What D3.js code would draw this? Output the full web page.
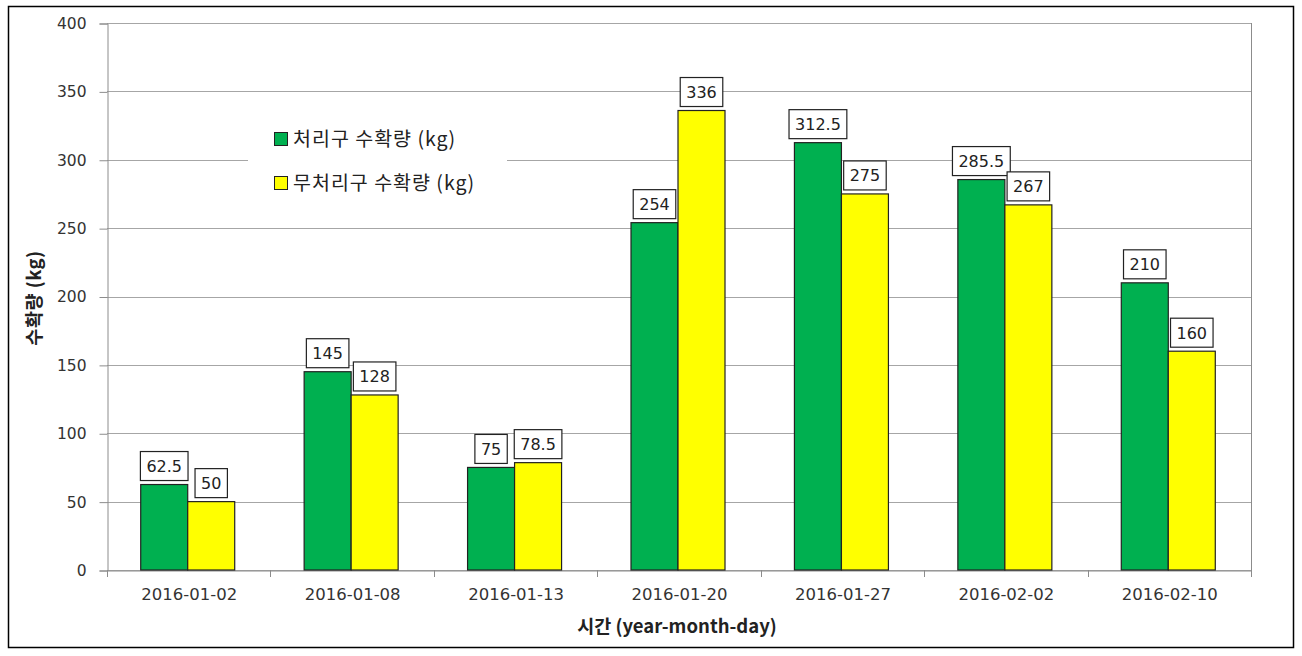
<!DOCTYPE html>
<html>
<head>
<meta charset="utf-8">
<script src="https://cdn.jsdelivr.net/npm/d3@7"></script>
<style>
body{margin:0;background:#fff;}
svg{display:block;font-family:"Noto Sans CJK KR","Noto Sans",sans-serif;}
</style>
</head>
<body>
<svg id="chart" width="1302" height="656"></svg>
<script>
const categories = ["2016-01-02","2016-01-08","2016-01-13","2016-01-20","2016-01-27","2016-02-02","2016-02-10"];
const treated = [62.5,145,75,254,312.5,285.5,210];
const untreated = [50,128,78.5,336,275,267,160];
const seriesNames = ["처리구 수확량 (kg)","무처리구 수확량 (kg)"];
const seriesColors = ["#00B050","#FFFF00"];
const yTicks = [0,50,100,150,200,250,300,350,400];

const svg = d3.select("#chart");
const L = 107, R = 1251, T = 23, B = 570;

svg.append("rect").attr("x",8.5).attr("y",6.5).attr("width",1285).attr("height",641)
  .attr("fill","#fff").attr("stroke","#000").attr("stroke-width",1.5);

const x = d3.scaleBand().domain(categories).range([L,R]).paddingInner(0).paddingOuter(0);
const y = d3.scaleLinear().domain([0,400]).range([B,T]);
const barW = 47;

// gridlines
svg.append("g").selectAll("line").data(yTicks).join("line")
  .attr("x1",L).attr("x2",R).attr("y1",d=>Math.round(y(d))+0.5).attr("y2",d=>Math.round(y(d))+0.5)
  .attr("stroke","#a6a6a6").attr("stroke-width",1);
// right border
svg.append("line").attr("x1",R+0.5).attr("x2",R+0.5).attr("y1",T).attr("y2",B).attr("stroke","#8c8c8c");

// y axis
const yAxis = svg.append("g").attr("transform",`translate(${L+0.5},0.5)`)
  .call(d3.axisLeft(y).tickValues(yTicks).tickSize(8).tickPadding(13));
yAxis.select(".domain").attr("stroke","#8c8c8c");
yAxis.selectAll(".tick line").attr("stroke","#8c8c8c");
yAxis.selectAll(".tick text").attr("fill","#333").attr("font-family","'DejaVu Sans',sans-serif").style("font-size","15.5px");

// x axis
const xAxis = svg.append("g").attr("transform",`translate(0.5,${B+0.5})`)
  .call(d3.axisBottom(x).tickSize(0).tickPadding(18));
xAxis.select(".domain").attr("stroke","#8c8c8c");
xAxis.selectAll(".tick text").attr("fill","#333").attr("font-family","'DejaVu Sans',sans-serif").style("font-size","16.5px");
// boundary ticks
const bounds = categories.map(c=>x(c)).concat([R]);
svg.append("g").selectAll("line").data(bounds).join("line")
  .attr("x1",d=>Math.round(d)+0.5).attr("x2",d=>Math.round(d)+0.5).attr("y1",B).attr("y2",B+7)
  .attr("stroke","#8c8c8c");

// bars
const data = categories.map((c,i)=>({c, vals:[treated[i],untreated[i]]}));
const groups = svg.append("g").selectAll("g").data(data).join("g");
groups.each(function(d){
  const g = d3.select(this);
  const cx = x(d.c) + x.bandwidth()/2 - 1;
  d.vals.forEach((v,j)=>{
    const bx = cx - barW + j*barW;
    g.append("rect").attr("x",bx).attr("y",y(v)).attr("width",barW).attr("height",B-y(v))
      .attr("fill",seriesColors[j]).attr("stroke","#222").attr("stroke-width",1.2);
    const label = String(v);
    const t = g.append("text").attr("x",bx+barW/2).attr("y",y(v)-12.5)
      .attr("text-anchor","middle").attr("fill","#222")
      .attr("font-family","'DejaVu Sans',sans-serif").style("font-size","16px").text(label);
    const bb = t.node().getBBox();
    g.insert("rect","text").attr("x",bb.x-6).attr("y",y(v)-33).attr("width",bb.width+12).attr("height",29)
      .attr("fill","#fff").attr("stroke","#222").attr("stroke-width",1.2);
  });
});
groups.selectAll("text").raise();

// legend
const leg = svg.append("g");
leg.append("rect").attr("x",248).attr("y",112).attr("width",259).attr("height",95).attr("fill","#fff");
seriesNames.forEach((n,i)=>{
  const ly = 139 + i*44;
  leg.append("rect").attr("x",274.5).attr("y",ly-6.5).attr("width",13).attr("height",13)
    .attr("fill",seriesColors[i]).attr("stroke","#222").attr("stroke-width",1);
  leg.append("text").attr("x",293).attr("y",ly+7).attr("fill","#222")
    .style("font-size","19.5px").style("letter-spacing","1px").text(n);
});

// axis titles
svg.append("text").attr("transform","translate(41,298) rotate(-90)").attr("text-anchor","middle")
  .attr("font-weight","bold").attr("fill","#222").style("font-size","18.5px").style("letter-spacing","0.5px").text("수확량 (kg)");
svg.append("text").attr("x",677).attr("y",633).attr("text-anchor","middle")
  .attr("font-weight","bold").attr("fill","#222").style("font-size","18.5px").text("시간 (year-month-day)");
</script>
</body>
</html>
